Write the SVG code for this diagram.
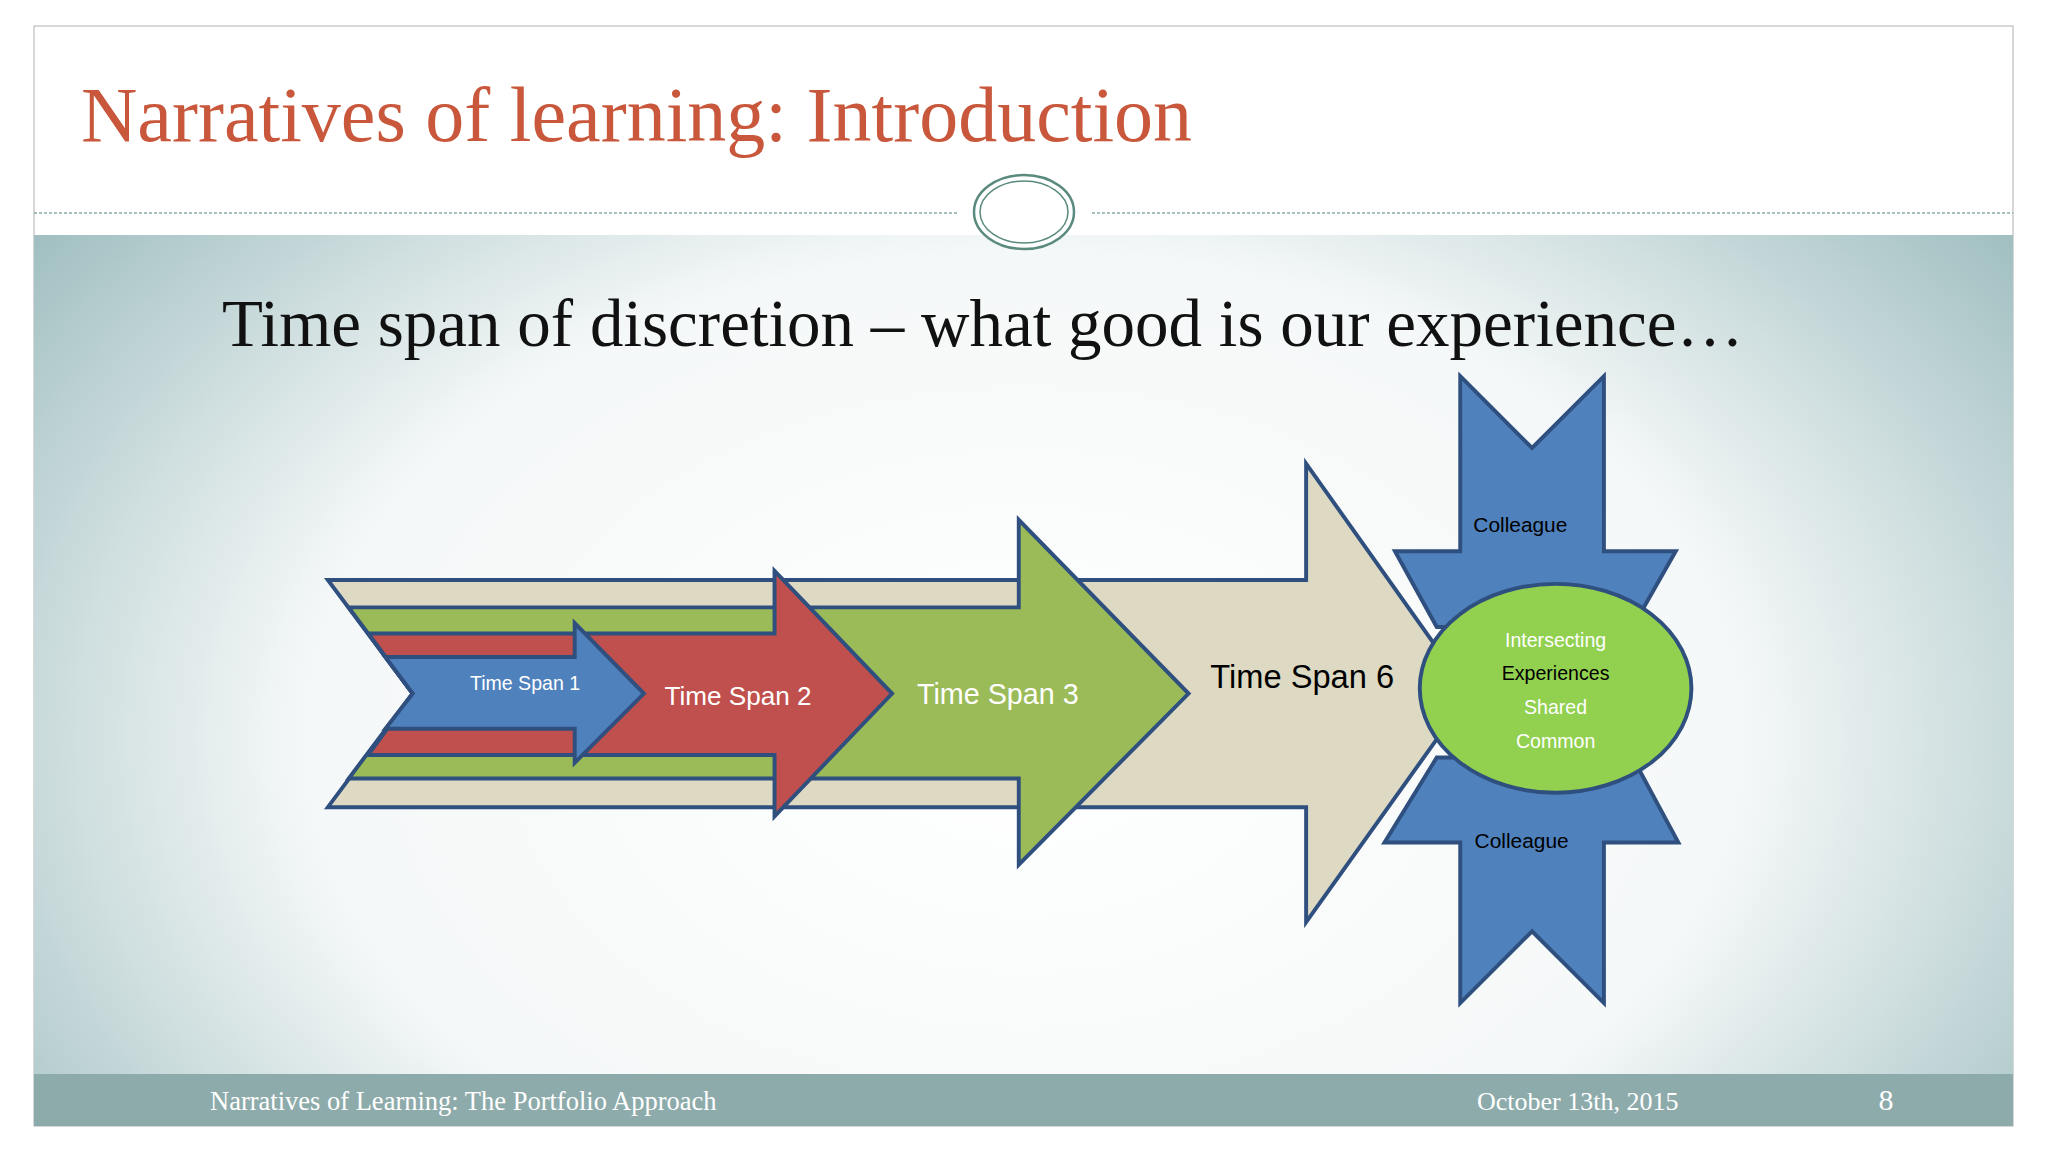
<svg xmlns="http://www.w3.org/2000/svg" width="2048" height="1152" viewBox="0 0 2048 1152">
<defs>
<radialGradient id="bg" cx="0.5" cy="0.6" r="0.66" gradientTransform="translate(0.5 0.6) scale(1 1.6) translate(-0.5 -0.6)">
<stop offset="0" stop-color="#ffffff"/><stop offset="0.55" stop-color="#f5f8f8"/><stop offset="1" stop-color="#95b7b9"/>
</radialGradient>
<style>
.sh{stroke:#2f4f7f;stroke-width:3;stroke-linejoin:miter}
.t{font-family:"Liberation Sans",Arial,sans-serif;text-anchor:middle}
</style>
</defs>
<rect width="2048" height="1152" fill="#ffffff"/>
<rect x="34" y="26" width="1979" height="1100" fill="#ffffff" stroke="#b0b0b0" stroke-width="1"/>
<rect x="34" y="235" width="1979" height="839" fill="url(#bg)"/>
<rect x="34" y="1074" width="1979" height="52" fill="#8eabab"/>
<text x="81" y="141" font-family="Liberation Serif,serif" font-size="78" fill="#c8573b">Narratives of learning: Introduction</text>
<line x1="34" y1="213" x2="957" y2="213" stroke="#8aa" stroke-width="1.5" stroke-dasharray="3,2"/>
<line x1="1092" y1="213" x2="2013" y2="213" stroke="#8aa" stroke-width="1.5" stroke-dasharray="3,2"/>
<ellipse cx="1024" cy="212" rx="50" ry="37" fill="#fff" stroke="#5a8a7e" stroke-width="2.5"/>
<ellipse cx="1024" cy="212" rx="44" ry="31" fill="none" stroke="#5a8a7e" stroke-width="1.5"/>
<text x="222" y="346" font-family="Liberation Serif,serif" font-size="67" fill="#111">Time span of discretion – what good is our experience…</text>
<g transform="scale(1.30612)">
<g id="colleagues">
<polygon class="sh" fill="#4f81bd" points="1118,288 1173,343 1228,288 1228,422 1283,422 1250,480 1100,480 1068,422 1118,422"/>
<polygon class="sh" fill="#4f81bd" points="1060,645 1100,580 1250,580 1285,645 1228,645 1228,768 1173,713 1118,768 1118,645"/>
<text class="t" x="1164" y="407" font-size="16" fill="#000">Colleague</text>
<text class="t" x="1165" y="649" font-size="16" fill="#000">Colleague</text>
</g>
<g id="span6">
<polygon class="sh" fill="#ddd9c3" points="251,444 1000,444 1000,355 1125,531 1000,706 1000,618 251,618 316,531"/>
<text class="t" x="997" y="527" font-size="25" fill="#000">Time Span 6</text>
</g>
<g id="span3">
<polygon class="sh" fill="#9bbb59" points="267,465 780,465 780,398 910,531 780,662 780,596 267,596 316,531"/>
<text class="t" x="764" y="539" font-size="22" fill="#fff">Time Span 3</text>
</g>
<g id="span2">
<polygon class="sh" fill="#c0504d" points="282,485 593,485 593,437 683,531 593,625 593,578 282,578 316,531"/>
<text class="t" x="565" y="540" font-size="20" fill="#fff">Time Span 2</text>
</g>
<g id="span1">
<polygon class="sh" fill="#4f81bd" points="295,503 440,503 440,477 493,531 440,584 440,558 295,558 316,531"/>
<text class="t" x="402" y="528" font-size="15" fill="#fff">Time Span 1</text>
</g>
<g id="center">
<ellipse class="sh" cx="1191" cy="527" rx="104" ry="80" fill="#92d050"/>
<text class="t" x="1191" y="495" font-size="15" fill="#fff">Intersecting</text>
<text class="t" x="1191" y="521" font-size="15" fill="#000">Experiences</text>
<text class="t" x="1191" y="547" font-size="15" fill="#fff">Shared</text>
<text class="t" x="1191" y="573" font-size="15" fill="#fff">Common</text>
</g>
</g>
<text x="210" y="1110" font-family="Liberation Serif,serif" font-size="26.5" fill="#fff">Narratives of Learning: The Portfolio Approach</text>
<text x="1477" y="1110" font-family="Liberation Serif,serif" font-size="26" fill="#fff">October 13th, 2015</text>
<text x="1886" y="1110" font-family="Liberation Serif,serif" font-size="30" fill="#fff" text-anchor="middle">8</text>
</svg>
